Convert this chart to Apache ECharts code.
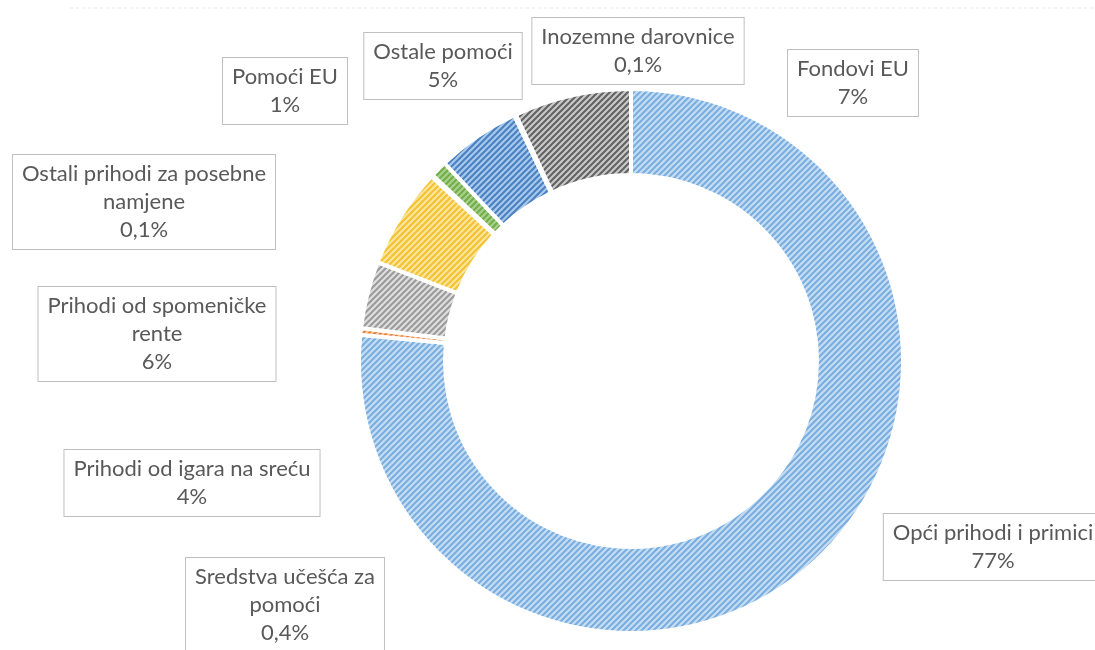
<!DOCTYPE html>
<html>
<head>
<meta charset="utf-8">
<script src="https://cdn.jsdelivr.net/npm/echarts@6/dist/echarts.min.js"></script>
<style>
  html, body { margin: 0; padding: 0; background: #fff; }
  #chart { width: 1095px; height: 650px; }
</style>
</head>
<body>
<div id="chart"></div>
<script>
// izvori financiranja (udio u %)
var categories = [
  'Opći prihodi i primici',
  'Sredstva učešća za\npomoći',
  'Prihodi od igara na sreću',
  'Prihodi od spomeničke\nrente',
  'Ostali prihodi za posebne\nnamjene',
  'Pomoći EU',
  'Ostale pomoći',
  'Inozemne darovnice',
  'Fondovi EU'
];
var values = [77, 0.4, 4, 6, 0.1, 1, 5, 0.1, 7];

// boje: [pruge, pozadina]
var colors = [
  ['#7aaddf', '#c4ddf3'],
  ['#ed7d31', '#f8c9a8'],
  ['#9a9a9a', '#dedede'],
  ['#f2c230', '#fbe49c'],
  ['#4472c4', '#b4c7e7'],
  ['#70ad47', '#a9d08e'],
  ['#4a80c0', '#a6c8ec'],
  ['#9e480e', '#d9a07a'],
  ['#616161', '#c8c8c8']
];

// sredista okvira s oznakama
var labelPos = [
  [993, 547], [285, 605], [192, 483], [157, 334], [144, 202],
  [285, 91], [443, 66], [638, 51], [853, 83]
];

// kosa crta (wide upward diagonal)
function hatch(fg, bg) {
  var s = 6;
  var c = document.createElement('canvas');
  c.width = s; c.height = s;
  var ctx = c.getContext('2d');
  ctx.fillStyle = bg;
  ctx.fillRect(0, 0, s, s);
  ctx.strokeStyle = fg;
  ctx.lineWidth = 2;
  ctx.beginPath();
  ctx.moveTo(-1, s + 1); ctx.lineTo(s + 1, -1);
  ctx.moveTo(-1, 1); ctx.lineTo(1, -1);
  ctx.moveTo(s - 1, s + 1); ctx.lineTo(s + 1, s - 1);
  ctx.stroke();
  return { image: c, repeat: 'repeat' };
}

function pct(v) {
  return String(v).replace('.', ',') + '%';
}

var chart = echarts.init(document.getElementById('chart'));

var data = categories.map(function (name, i) {
  return {
    name: name,
    value: values[i],
    itemStyle: { color: hatch(colors[i][0], colors[i][1]) }
  };
});

chart.setOption({
  backgroundColor: '#fff',
  animation: false,
  graphic: [{
    type: 'line',
    shape: { x1: 70, y1: 8, x2: 1095, y2: 8 },
    style: { stroke: '#ece7df', lineWidth: 1, lineDash: [3, 3] }
  }],
  series: [{
    type: 'pie',
    center: [631, 361],
    radius: [186, 272],
    startAngle: 90,
    clockwise: true,
    avoidLabelOverlap: false,
    itemStyle: { borderColor: '#fff', borderWidth: 4 },
    label: {
      show: true,
      formatter: function (p) { return p.name + '\n' + pct(p.value); },
      fontFamily: 'Lato',
      fontSize: 22,
      lineHeight: 28,
      color: '#595959',
      align: 'center',
      backgroundColor: '#fff',
      borderColor: '#bfbfbf',
      borderWidth: 1,
      padding: [5, 9]
    },
    labelLine: { show: false },
    labelLayout: function (p) {
      var pos = labelPos[p.dataIndex];
      return { x: pos[0], y: pos[1], align: 'center', verticalAlign: 'middle' };
    },
    data: data
  }]
});
</script>
</body>
</html>
